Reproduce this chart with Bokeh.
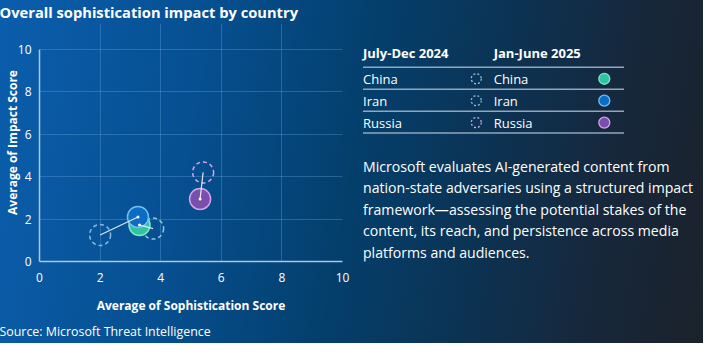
from bokeh.plotting import figure
from bokeh.models import Range1d, Title, ColumnDataSource
from bokeh.layouts import row
from bokeh.embed import file_html
from bokeh.resources import INLINE
from bokeh.core.properties import value

# ---------------- data ----------------
countries = ["China", "Iran", "Russia"]
soph_2024 = [3.75, 2.0, 5.4]
impact_2024 = [1.55, 1.25, 4.2]
soph_2025 = [3.3, 3.25, 5.3]
impact_2025 = [1.72, 2.1, 2.95]
ticks = [0, 2, 4, 6, 8, 10]
period_labels = ["July-Dec 2024", "Jan-June 2025"]
title_text = "Overall sophistication impact by country"
x_label = "Average of Sophistication Score"
y_label = "Average of Impact Score"
source_text = "Source: Microsoft Threat Intelligence"
note_lines = [
    "Microsoft evaluates AI-generated content from",
    "nation-state adversaries using a structured impact",
    "framework\u2014assessing the potential stakes of the",
    "content, its reach, and persistence across media",
    "platforms and audiences.",
]

# ---------------- style ----------------
FONT = "Open Sans"
fill_2025 = ["#2ec4a0", "#0a6cc2", "#7a4fab"]
edge_2025 = ["#86e3cc", "#74bdee", "#cfa2ea"]
edge_2024 = ["#8ecbd8", "#86b8e0", "#d3a2e8"]
W1, W2, H = 352, 351, 343
BL, BR, BT, BB = 39, 10, 23, 81
Y10_PX = 49                      # pixel row of value 10 on the impact axis
frame_bottom = H - BB
y_end = 10 * (frame_bottom - BT) / (frame_bottom - Y10_PX)

# ---------------- chart ----------------
p = figure(width=W1, height=H, x_range=Range1d(0, 10), y_range=Range1d(0, y_end),
           output_backend="svg", toolbar_location=None, title=title_text,
           min_border_left=BL, min_border_right=BR, min_border_top=BT, min_border_bottom=BB)
p.background_fill_alpha = 0
p.border_fill_alpha = 0
p.outline_line_color = None

for ax in (p.xaxis, p.yaxis):
    ax.ticker = ticks
    ax.bounds = (0, 10)
    ax.major_tick_out = 0
    ax.major_tick_in = 0
    ax.minor_tick_out = 0
    ax.minor_tick_in = 0
    ax.major_tick_line_color = None
    ax.minor_tick_line_color = None
    ax.axis_line_color = "#a9c8e6"
    ax.axis_line_width = 1.5
    ax.major_label_text_color = "white"
    ax.major_label_text_font = FONT
    ax.major_label_text_font_size = "12px"
    ax.axis_label_text_color = "white"
    ax.axis_label_text_font = FONT
    ax.axis_label_text_font_size = "12px"
    ax.axis_label_text_font_style = "bold"
p.xaxis.axis_label = x_label
p.yaxis.axis_label = y_label
p.xaxis.major_label_standoff = 11
p.yaxis.major_label_standoff = 8
p.xaxis.axis_label_standoff = 12
p.yaxis.axis_label_standoff = -6

p.grid.grid_line_color = "#6aa6dc"
p.grid.grid_line_alpha = 0.35
p.grid.grid_line_width = 1
p.grid.bounds = (0, 10)

p.title.text_color = "white"
p.title.text_font = FONT
p.title.text_font_size = "14.7px"
p.title.text_font_style = "bold"
p.title.align = "left"
p.title.offset = -BL - 1
p.title.vertical_align = "top"
p.title.standoff = 0

src = Title(text=source_text, align="left", text_color="white", text_font=FONT,
            text_font_size="12.4px", text_font_style="normal", offset=-BL - 1, standoff=8)
p.add_layout(src, "below")

ds = ColumnDataSource(dict(c=countries, x0=soph_2024, y0=impact_2024, x1=soph_2025, y1=impact_2025,
                           fill=fill_2025, edge=edge_2025, edge0=edge_2024))

p.scatter("x0", "y0", source=ds, size=21, fill_color=None, line_color="edge0",
          line_width=1.5, line_dash="4 3")
p.scatter("x1", "y1", source=ds, size=21, fill_color="fill", line_color="edge", line_width=1.5)
p.segment("x0", "y0", "x1", "y1", source=ds, line_color="white", line_alpha=0.85, line_width=1.2)
p.scatter("x1", "y1", source=ds, size=3, fill_color="white", line_color=None)

# ---------------- side panel (frame is aligned with the chart frame by the row) ----------------
s = figure(width=W2, height=H, x_range=Range1d(0, W2), y_range=Range1d(frame_bottom, BT),
           output_backend="svg", toolbar_location=None, title=None,
           min_border=0, min_border_left=0, min_border_right=0, min_border_top=BT, min_border_bottom=BB,
           x_axis_location=None, y_axis_location=None)
s.background_fill_alpha = 0
s.border_fill_alpha = 0
s.outline_line_color = None
s.grid.visible = False

col_x = [10.5, 141.2]
icon_x = [123.8, 251.8]
header_y = 53
rule_top = 67
row_h = 22
rule_x0, rule_x1 = 10.5, 271.5

s.text(x=col_x, y=[header_y] * 2, text=period_labels, text_font=value(FONT),
       text_font_size="13px", text_font_style="bold", text_color="white",
       text_baseline="middle", text_align="left")

rule_ys = [rule_top + row_h * i for i in range(len(countries) + 1)]
s.segment(x0=[rule_x0] * len(rule_ys), y0=rule_ys, x1=[rule_x1] * len(rule_ys), y1=rule_ys,
          line_color="#9fb4c8", line_width=1.5, line_alpha=0.9)

row_ys = [rule_top + row_h * i + row_h / 2 + 0.5 for i in range(len(countries))]
for cx in col_x:
    s.text(x=[cx] * len(countries), y=row_ys, text=countries, text_font=value(FONT),
           text_font_size="13px", text_color="white", text_baseline="middle", text_align="left")

s.scatter(x=[icon_x[0]] * 3, y=row_ys, size=10, fill_color=None, line_color=edge_2024,
          line_width=1.3, line_dash="2 2")
s.scatter(x=[icon_x[1]] * 3, y=row_ys, size=11, fill_color=fill_2025, line_color=edge_2025,
          line_width=1.3)

note_y0 = 166.3
note_dy = 21.6
s.text(x=[10.5] * len(note_lines), y=[note_y0 + note_dy * i for i in range(len(note_lines))],
       text=note_lines, text_font=value(FONT), text_font_size="14.1px", text_color="white",
       text_baseline="middle", text_align="left")

layout = row(p, s, styles={"background": "linear-gradient(100deg, #0b5ead 0%, #064f90 28%, #043f6c 50%, #0d3150 70%, #17273a 85%, #1b222b 100%)"})

open("out.html", "w").write(file_html(layout, INLINE))
